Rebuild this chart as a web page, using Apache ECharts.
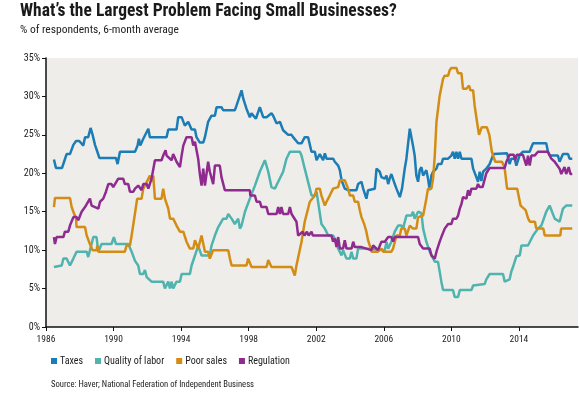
<!DOCTYPE html>
<html>
<head>
<meta charset="utf-8">
<script src="https://cdn.jsdelivr.net/npm/echarts@6/dist/echarts.min.js"></script>
<style>
  html, body { margin: 0; padding: 0; background: #fff; }
  #chart { width: 580px; height: 396px; }
</style>
</head>
<body>
<div id="chart"></div>
<script>
// values: [year, % of respondents]
const tickYears = [1986, 1990, 1994, 1998, 2002, 2006, 2010, 2014]
const seriesNames = ['Taxes', 'Quality of labor', 'Poor sales', 'Regulation']

const taxes = [[1986.47,21.8],[1986.59,20.7],[1986.95,20.7],[1987.07,21.5],[1987.22,22.5],[1987.42,22.5],[1987.62,23.7],[1987.78,24.2],[1987.97,24.2],[1988.21,23.6],[1988.31,24.7],[1988.5,24.7],[1988.64,25.9],[1988.76,25.0],[1988.9,23.7],[1989.04,22.8],[1989.16,22.0],[1990.14,22.0],[1990.24,21.2],[1990.38,22.8],[1991.27,22.8],[1991.42,23.6],[1991.5,24.5],[1991.58,23.6],[1991.76,24.5],[1992.06,25.8],[1992.15,24.7],[1993.14,24.7],[1993.24,25.7],[1993.73,25.7],[1993.83,27.3],[1994.03,27.3],[1994.22,26.2],[1994.42,26.7],[1994.52,26.7],[1994.62,25.7],[1994.82,25.7],[1994.91,24.7],[1995.11,24.0],[1995.31,24.0],[1995.41,24.7],[1995.6,26.7],[1995.8,27.5],[1996.0,27.5],[1996.1,28.6],[1996.39,28.6],[1996.49,28.2],[1996.79,28.2],[1996.89,28.4],[1997.18,28.2],[1997.28,28.8],[1997.38,28.8],[1997.58,30.8],[1997.68,29.7],[1997.78,29.7],[1997.87,28.4],[1998.07,27.3],[1998.17,27.8],[1998.27,27.8],[1998.43,27.1],[1998.66,28.6],[1998.86,27.3],[1999.06,27.3],[1999.35,27.8],[1999.45,27.5],[1999.65,26.5],[1999.85,26.7],[2000.04,25.6],[2000.14,25.8],[2000.34,25.0],[2000.54,25.0],[2000.63,24.7],[2000.93,23.9],[2001.13,23.9],[2001.32,24.7],[2001.52,24.7],[2001.72,22.8],[2001.92,22.8],[2002.02,21.7],[2002.21,22.5],[2002.41,21.7],[2002.51,22.6],[2002.61,21.9],[2003.0,21.9],[2003.1,21.5],[2003.3,21.0],[2003.4,20.4],[2003.5,19.1],[2003.59,19.1],[2003.69,18.0],[2003.89,17.8],[2004.38,17.8],[2004.48,18.6],[2004.68,18.9],[2004.78,18.0],[2004.88,18.0],[2004.97,16.7],[2005.07,17.8],[2005.47,18.0],[2005.57,20.6],[2005.76,20.2],[2005.86,19.5],[2006.06,19.3],[2006.16,19.7],[2006.26,18.6],[2006.35,19.3],[2006.45,19.9],[2006.65,18.6],[2006.75,18.0],[2006.95,16.9],[2007.08,18.0],[2007.24,20.6],[2007.34,21.9],[2007.54,25.8],[2007.73,23.6],[2007.83,22.3],[2007.93,19.7],[2008.03,18.9],[2008.13,20.4],[2008.23,20.8],[2008.33,19.7],[2008.52,20.4],[2008.62,19.3],[2008.72,17.8],[2008.82,19.7],[2008.92,20.2],[2009.12,20.6],[2009.21,21.2],[2009.41,21.2],[2009.51,21.9],[2009.81,21.9],[2010.0,22.3],[2010.1,22.8],[2010.2,21.9],[2010.3,22.8],[2010.4,21.9],[2010.5,22.8],[2010.6,21.9],[2011.19,21.9],[2011.29,20.6],[2011.48,19.5],[2011.58,18.9],[2011.68,20.2],[2011.78,19.0],[2011.88,20.2],[2012.07,20.6],[2012.27,21.2],[2012.5,22.5],[2013.3,22.6],[2013.45,21.2],[2013.55,21.9],[2013.75,21.9],[2013.85,21.0],[2014.05,22.4],[2014.24,22.8],[2014.64,22.8],[2014.74,23.4],[2014.84,23.9],[2015.62,23.9],[2015.72,22.8],[2015.82,22.3],[2016.31,22.3],[2016.41,21.5],[2016.61,22.5],[2016.91,22.5],[2017.0,21.9],[2017.16,21.9]]

const labor = [[1986.47,7.8],[1986.93,8.0],[1987.03,8.9],[1987.22,8.9],[1987.42,8.0],[1987.52,8.0],[1987.62,8.9],[1987.81,9.8],[1988.41,9.8],[1988.5,9.1],[1988.7,10.8],[1988.8,11.7],[1988.99,11.7],[1989.1,9.8],[1989.29,10.8],[1989.88,10.8],[1990.02,11.7],[1990.14,10.8],[1990.87,10.8],[1991.07,9.8],[1991.27,8.6],[1991.46,8.0],[1991.56,6.9],[1991.76,6.9],[1991.86,7.4],[1991.96,6.5],[1992.06,6.5],[1992.25,5.9],[1992.94,5.9],[1993.04,5.0],[1993.14,5.0],[1993.24,5.9],[1993.34,5.0],[1993.44,5.9],[1993.53,5.0],[1993.63,5.0],[1993.73,5.9],[1993.93,5.9],[1994.03,6.9],[1994.52,6.9],[1994.62,8.0],[1994.82,9.3],[1995.01,10.6],[1995.21,9.3],[1995.7,9.3],[1995.8,10.6],[1996.0,11.9],[1996.2,13.0],[1996.49,14.1],[1996.69,14.1],[1996.79,14.7],[1996.99,14.1],[1997.08,14.1],[1997.18,13.4],[1997.38,14.1],[1997.48,12.8],[1997.58,13.2],[1997.78,15.0],[1998.07,16.7],[1998.37,18.4],[1998.66,20.2],[1998.96,21.7],[1999.16,20.2],[1999.35,18.2],[1999.55,18.0],[1999.75,18.9],[2000.04,20.2],[2000.24,21.9],[2000.44,22.8],[2001.03,22.8],[2001.13,22.3],[2001.32,20.6],[2001.62,18.0],[2001.72,17.1],[2001.92,17.1],[2002.02,17.6],[2002.31,13.4],[2002.51,12.8],[2002.71,11.9],[2003.0,11.9],[2003.2,11.1],[2003.3,10.2],[2003.4,10.2],[2003.5,9.3],[2003.59,10.0],[2003.69,10.0],[2003.79,8.9],[2003.99,8.9],[2004.09,9.8],[2004.19,8.9],[2004.38,8.9],[2004.48,10.2],[2004.88,10.2],[2004.97,10.0],[2006.06,10.0],[2006.16,11.1],[2006.26,10.2],[2006.45,11.1],[2006.65,12.4],[2006.85,13.2],[2007.04,13.2],[2007.14,12.8],[2007.34,14.5],[2007.64,14.5],[2007.73,15.0],[2007.83,14.1],[2008.03,15.0],[2008.23,14.8],[2008.33,12.8],[2008.52,11.1],[2008.72,9.8],[2009.02,8.5],[2009.21,8.5],[2009.31,7.2],[2009.41,5.9],[2009.51,4.8],[2010.1,4.8],[2010.2,3.9],[2010.4,3.9],[2010.5,4.8],[2011.19,4.8],[2011.29,5.4],[2011.98,5.6],[2012.07,6.2],[2012.27,6.9],[2013.06,6.9],[2013.16,5.9],[2013.45,6.2],[2013.55,7.2],[2013.65,7.8],[2013.75,8.0],[2013.85,9.2],[2014.05,9.3],[2014.15,10.6],[2014.54,10.6],[2014.64,10.8],[2014.84,11.9],[2015.13,12.8],[2015.33,13.2],[2015.62,15.0],[2015.82,15.8],[2015.92,15.8],[2016.12,14.1],[2016.41,13.7],[2016.61,15.4],[2016.8,15.8],[2017.16,15.8]]

const sales = [[1986.47,15.6],[1986.53,16.8],[1987.42,16.8],[1987.52,15.6],[1987.62,15.0],[1987.72,15.0],[1987.78,14.1],[1987.81,13.0],[1988.31,13.0],[1988.41,11.9],[1988.6,10.8],[1988.76,10.0],[1989.0,10.0],[1989.04,10.6],[1989.1,9.8],[1990.67,9.8],[1990.77,10.6],[1990.97,10.6],[1991.07,11.9],[1991.27,14.8],[1991.4,16.7],[1991.66,16.7],[1991.76,18.0],[1991.86,18.4],[1992.15,19.7],[1992.25,18.9],[1992.35,19.7],[1992.45,16.7],[1992.84,16.7],[1992.94,18.0],[1993.04,16.7],[1993.14,16.7],[1993.24,15.4],[1993.34,14.1],[1993.53,14.1],[1993.73,13.2],[1993.93,12.4],[1994.13,12.4],[1994.32,11.1],[1994.52,10.2],[1994.72,10.2],[1994.82,11.3],[1994.91,11.3],[1995.01,10.2],[1995.21,11.9],[1995.41,9.8],[1995.6,9.8],[1995.7,8.9],[1995.9,10.0],[1996.79,10.0],[1996.89,8.9],[1996.99,8.0],[1997.87,8.0],[1997.97,8.9],[1998.07,8.9],[1998.17,7.8],[1999.06,7.8],[1999.16,8.7],[1999.25,8.7],[1999.35,7.8],[2000.54,7.8],[2000.73,6.7],[2000.83,8.0],[2000.93,8.0],[2001.13,11.1],[2001.32,13.7],[2001.62,16.3],[2001.92,17.1],[2002.02,18.0],[2002.21,18.0],[2002.31,17.1],[2002.51,15.8],[2002.61,16.3],[2002.8,17.1],[2003.0,18.0],[2003.3,18.2],[2003.4,19.1],[2003.69,19.1],[2003.79,18.9],[2003.89,18.0],[2003.99,17.1],[2004.19,17.1],[2004.28,16.3],[2004.48,16.3],[2004.58,15.2],[2004.68,14.3],[2004.78,14.3],[2004.84,13.4],[2004.97,12.4],[2005.07,11.3],[2005.17,10.6],[2005.27,9.8],[2005.66,9.8],[2005.86,10.2],[2005.96,9.8],[2006.45,9.8],[2006.55,10.2],[2006.75,11.9],[2006.95,11.9],[2007.04,12.8],[2007.24,12.8],[2007.34,11.9],[2007.54,13.2],[2007.73,12.8],[2007.93,12.8],[2008.03,14.3],[2008.33,14.5],[2008.52,16.7],[2008.62,18.0],[2008.82,18.0],[2008.92,19.3],[2009.02,22.3],[2009.12,26.7],[2009.31,30.1],[2009.51,32.3],[2009.61,32.7],[2009.81,32.7],[2009.9,33.4],[2010.0,33.7],[2010.3,33.7],[2010.4,33.0],[2010.6,33.0],[2010.69,31.0],[2010.89,31.0],[2011.05,31.4],[2011.13,30.8],[2011.29,30.8],[2011.38,28.8],[2011.52,26.7],[2011.64,25.0],[2011.72,25.0],[2011.8,26.0],[2012.1,26.0],[2012.25,25.0],[2012.4,22.8],[2012.6,21.5],[2013.0,21.5],[2013.15,20.8],[2013.3,18.0],[2013.9,18.0],[2014.1,15.8],[2014.4,15.2],[2014.55,14.1],[2014.65,13.7],[2014.95,13.7],[2015.03,12.8],[2015.45,12.8],[2015.53,11.9],[2016.45,11.9],[2016.5,12.8],[2017.16,12.8]]

const regulation = [[1986.47,11.7],[1986.53,10.8],[1986.63,11.7],[1987.03,11.7],[1987.12,12.4],[1987.32,12.4],[1987.42,13.2],[1987.62,14.3],[1987.81,14.3],[1987.91,13.9],[1988.01,14.1],[1988.11,15.0],[1988.31,15.6],[1988.6,16.7],[1988.7,15.8],[1989.1,15.4],[1989.2,16.3],[1989.39,16.7],[1989.55,17.6],[1989.69,18.6],[1989.88,18.6],[1989.98,18.2],[1990.28,19.3],[1990.57,19.3],[1990.67,18.6],[1990.87,18.6],[1990.97,17.6],[1991.17,17.6],[1991.27,18.0],[1991.46,18.4],[1991.66,17.8],[1991.76,18.6],[1991.96,18.6],[1992.06,18.0],[1992.25,19.3],[1992.45,21.7],[1992.84,21.7],[1992.94,22.3],[1993.08,23.0],[1993.14,22.3],[1993.24,22.1],[1993.44,21.7],[1993.53,22.5],[1993.73,21.5],[1993.83,21.5],[1993.93,20.8],[1994.03,22.3],[1994.13,23.6],[1994.32,24.7],[1994.62,24.7],[1994.72,23.6],[1994.82,24.1],[1995.01,21.9],[1995.11,19.9],[1995.21,18.4],[1995.31,20.6],[1995.41,18.4],[1995.6,21.5],[1995.7,20.2],[1995.9,18.6],[1996.0,21.0],[1996.29,21.0],[1996.39,19.5],[1996.59,17.8],[1998.07,17.8],[1998.1,17.1],[1998.37,17.1],[1998.47,16.3],[1998.66,16.3],[1998.76,15.6],[1999.06,15.6],[1999.16,14.7],[1999.65,14.7],[1999.75,15.6],[1999.85,14.7],[1999.94,15.6],[2000.04,14.7],[2000.34,14.7],[2000.44,15.6],[2000.54,14.7],[2000.83,13.7],[2000.93,11.9],[2001.2,12.4],[2001.3,11.9],[2001.45,12.4],[2001.55,11.9],[2001.72,12.4],[2001.8,11.9],[2002.9,11.9],[2003.0,11.1],[2003.1,11.5],[2003.2,10.4],[2003.3,11.7],[2003.4,10.2],[2003.59,10.2],[2003.69,11.3],[2003.79,10.2],[2004.09,10.2],[2004.19,11.1],[2004.28,10.4],[2004.68,10.4],[2004.97,10.2],[2005.27,10.0],[2005.37,10.6],[2005.47,10.6],[2005.66,10.0],[2005.86,11.1],[2006.06,11.1],[2006.26,11.7],[2006.45,11.7],[2006.55,11.1],[2006.65,11.7],[2008.03,11.7],[2008.13,10.8],[2008.33,10.2],[2008.72,10.2],[2008.82,9.3],[2009.02,8.9],[2009.12,9.8],[2009.21,9.8],[2009.31,11.1],[2009.41,11.7],[2009.61,12.8],[2009.71,12.6],[2009.81,13.4],[2010.0,13.4],[2010.1,14.1],[2010.3,14.1],[2010.4,14.5],[2010.5,15.4],[2010.6,16.0],[2010.69,16.9],[2010.89,16.7],[2010.99,17.8],[2011.09,17.1],[2011.19,18.0],[2011.48,18.0],[2011.58,18.6],[2011.68,18.2],[2011.85,18.2],[2012.07,20.0],[2012.27,20.7],[2013.16,20.7],[2013.26,21.5],[2013.45,22.4],[2013.7,22.4],[2013.78,21.7],[2013.88,22.4],[2014.24,22.4],[2014.44,21.0],[2014.54,22.3],[2014.64,21.0],[2014.74,22.3],[2014.93,22.3],[2015.13,22.8],[2015.72,22.8],[2015.92,21.9],[2016.12,21.5],[2016.22,21.5],[2016.41,20.6],[2016.51,19.9],[2016.7,20.8],[2016.8,19.9],[2016.95,20.8],[2017.05,19.9],[2017.16,19.9]]

const colors = ['#1c7db6', '#4fb3ae', '#d38d14', '#8f2b8f']
const font = "'Liberation Sans Narrow', 'Roboto Condensed', Roboto, sans-serif"

const chart = echarts.init(document.getElementById('chart'))

chart.setOption({
  animation: false,
  backgroundColor: '#fff',
  color: colors,
  textStyle: { fontFamily: font },
  title: [
    {
      text: 'What\u2019s the Largest Problem Facing Small Businesses?',
      left: 20, top: 3, padding: 0,
      textStyle: { fontFamily: font, fontSize: 17.5, fontWeight: 'bold', color: '#1a1a1a' }
    },
    {
      text: '% of respondents, 6-month average',
      left: 20, top: 24, padding: 0,
      textStyle: { fontFamily: font, fontSize: 11.5, fontWeight: 'normal', color: '#222' }
    },
    {
      text: 'Source: Haver; National Federation of Independent Business',
      left: 51, top: 380, padding: 0,
      textStyle: { fontFamily: font, fontSize: 8.6, fontWeight: 'normal', color: '#222' }
    }
  ],
  legend: {
    left: 51, top: 356, padding: 0,
    icon: 'rect',
    itemWidth: 6, itemHeight: 6,
    itemGap: 12,
    data: seriesNames,
    textStyle: { fontFamily: font, fontSize: 10, color: '#222', padding: [0, 0, 0, -2] }
  },
  grid: {
    left: 46, right: 2, top: 58, bottom: 69,
    show: true, backgroundColor: '#efedea', borderWidth: 0
  },
  xAxis: {
    type: 'value',
    min: 1986, max: 2017.5,
    axisLine: { show: true, onZero: false, lineStyle: { color: '#111', width: 1.5 } },
    axisTick: { show: true, length: 4, customValues: tickYears, lineStyle: { color: '#111' } },
    axisLabel: {
      customValues: tickYears,
      formatter: v => String(v),
      margin: 8, fontSize: 9.5, color: '#222', fontFamily: font
    },
    splitLine: { show: false }
  },
  yAxis: {
    type: 'value',
    min: 0, max: 35, interval: 5,
    axisLine: { show: true, lineStyle: { color: '#111', width: 1.5 } },
    axisTick: { show: true, length: 4, lineStyle: { color: '#111' } },
    axisLabel: { formatter: '{value}%', margin: 6, fontSize: 10, color: '#222', fontFamily: font },
    splitLine: { show: false }
  },
  series: [
    { name: seriesNames[0], data: taxes },
    { name: seriesNames[1], data: labor },
    { name: seriesNames[2], data: sales },
    { name: seriesNames[3], data: regulation }
  ].map(s => ({
    ...s,
    type: 'line',
    symbol: 'none',
    lineStyle: { width: 2.5 }
  }))
})
</script>
</body>
</html>
